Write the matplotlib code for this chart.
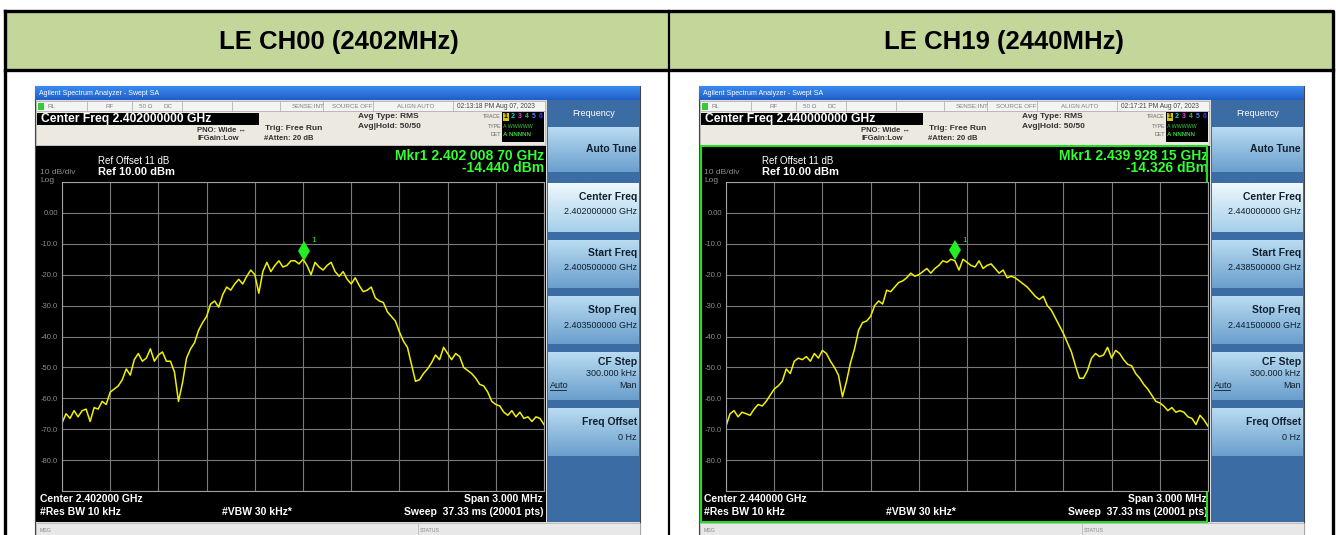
import numpy as np
import matplotlib.pyplot as plt
from matplotlib.patches import Rectangle
import matplotlib.transforms as mtransforms

plt.rcParams['font.family'] = ['Liberation Sans', 'DejaVu Sans']

W, H = 1336, 535

# table header / screen texts
titles = ["LE CH00 (2402MHz)", "LE CH19 (2440MHz)"]
center_ghz = ["2.402000000", "2.440000000"]
center_short = ["2.402000", "2.440000"]
start_ghz = ["2.400500000", "2.438500000"]
stop_ghz = ["2.403500000", "2.441500000"]
clock = ["02:13:18 PM Aug 07, 2023", "02:17:21 PM Aug 07, 2023"]
mkr_freq = ["2.402 008 70", "2.439 928 15"]
mkr_level = [-14.440, -14.326]
mkr_offset = [0.0087, -0.0718]  # MHz from center

span_mhz = 3.0
ref_dbm = 10.0
ylabels = ["", "0.00", "-10.0", "-20.0", "-30.0", "-40.0", "-50.0", "-60.0", "-70.0", "-80.0", ""]

# trace values (dBm), 121 pts over the span
ch00_dbm = [-68, -65, -66.5, -64, -66, -64, -63.5, -67.5, -63, -63.5,
            -61, -62, -58, -57, -56, -54, -50.5, -52.5, -47.5, -45.5,
            -48, -47, -44, -48, -46, -45, -48, -48, -51.5, -61,
            -55, -47, -44, -42, -38, -35.5, -33.5, -29.5, -28.5, -30.5,
            -26.5, -24, -25, -23, -21.5, -23, -20.5, -18.5, -20, -26,
            -19, -16, -19, -17, -15.5, -17.5, -17, -15.5, -15.5, -16.5,
            -15, -17, -20, -16, -17.5, -18.5, -17, -16, -19, -20.5,
            -19, -21.5, -23, -21, -23.5, -25.5, -25, -24, -27.5, -28.5,
            -29, -32, -33.5, -35, -38.5, -41.5, -43.5, -49, -54.5, -54,
            -52, -50.5, -48.5, -46, -47.5, -43.5, -45.5, -47.5, -45.5, -46.5,
            -50, -51, -52, -53.5, -55.5, -56, -58, -61, -62, -62.5,
            -64.5, -65.5, -64, -66, -64.5, -66.5, -66, -67.5, -66, -66.5,
            -68.5]
ch19_dbm = [-69, -65, -64, -66, -64.5, -65, -65.5, -63.5, -62, -62.5,
            -61, -59, -57, -56, -54.5, -50.5, -52, -48, -47, -47.5,
            -46.5, -48, -45.5, -47, -44.5, -45.5, -48, -50, -52.5, -59.5,
            -54.5, -48.5, -44, -38, -35.5, -35, -33.5, -30, -28.5, -29.5,
            -25, -25.5, -24, -22.5, -22, -21, -19.5, -20.5, -20, -19,
            -18, -19.5, -18, -17, -15.5, -16, -15, -15.5, -18.5, -15,
            -16, -17, -17.5, -15.5, -18, -17, -16.5, -18, -19.5, -18.5,
            -21, -20.5, -21, -22, -23, -24, -25.5, -27, -28, -27,
            -30, -31.5, -34, -36.5, -39, -42, -45, -49.5, -53.5, -53.5,
            -51, -47, -45.5, -46.5, -46, -43.5, -47, -44.5, -45.5, -47.5,
            -49, -49.5, -52, -53.5, -55.5, -57, -59, -61, -61.5, -62.5,
            -64, -63, -64.5, -64, -64.5, -66, -66.5, -68.5, -65.5, -67,
            -69]
traces = [ch00_dbm, ch19_dbm]

fig = plt.figure(figsize=(W / 100, H / 100), dpi=100)
bg = fig.add_axes([0, 0, 1, 1])
bg.set_axis_off()

# table
bg.add_patch(Rectangle((5, 11), 1328, 59, fc='#c4d79b', ec='none'))
bg.plot([5, 1333, 1333, 5, 5], [11, 11, 540, 540, 11], color='black', lw=2.4)
bg.plot([5, 1333], [70, 70], color='black', lw=2.4)
bg.plot([669, 669], [11, 540], color='black', lw=1.6)
for i, t in enumerate(titles):
    bg.text(339 + 665 * i, 42, t, ha='center', va='center', fontsize=18.5, fontweight='bold')


def small(x, y, s, **kw):
    kw.setdefault('fontsize', 5)
    kw.setdefault('color', '#333333')
    bg.text(x, y, s, va='center', **kw)


def grad(x0, x1, y0, y1, c_top, c_bot):
    a = np.array(plt.matplotlib.colors.to_rgb(c_top))
    b = np.array(plt.matplotlib.colors.to_rgb(c_bot))
    t = np.linspace(0, 1, 32)[:, None]
    img = (a * (1 - t) + b * t)[:, None, :]
    bg.imshow(img, extent=(x0, x1, y1, y0), origin='upper', aspect='auto', zorder=2)


for i in range(2):
    dx = 664 * i
    x0 = 35 + dx
    # frame + title bar
    bg.add_patch(Rectangle((x0, 86), 605, 455, fc='#dcdcdc', ec='#444444', lw=0.8, zorder=1))
    grad(x0, x0 + 605, 86, 100, '#3c8cf0', '#1f5fc8')
    small(x0 + 4, 93.5, "Agilent Spectrum Analyzer - Swept SA", color='white', fontsize=5, zorder=3)

    # status row
    bg.add_patch(Rectangle((36 + dx, 101), 509, 10, fc='#f4f4f4', ec='#a8a8a8', lw=0.5, zorder=2))
    for sx in [87, 132, 182, 232, 280, 323, 373, 453]:
        bg.plot([sx + dx, sx + dx], [101, 111], color='#a8a8a8', lw=0.5, zorder=3)
    bg.add_patch(Rectangle((38 + dx, 102.5), 6, 7, fc='#33cc33', ec='none', zorder=3))
    for s, sx in [("RL", 47), ("RF", 106), ("50 Ω", 139), ("DC", 163), ("SENSE:INT", 292),
                  ("SOURCE OFF", 332), ("ALIGN AUTO", 397)]:
        small(sx + dx, 106, s, color='#808080', fontsize=4.5, zorder=3)
    small(457 + dx, 106, clock[i], color='#444444', fontsize=4.8, zorder=3)

    # settings row
    bg.add_patch(Rectangle((36 + dx, 111), 509, 34, fc='#ece9e1', ec='#b0b0b0', lw=0.5, zorder=2))
    bg.add_patch(Rectangle((37 + dx, 113), 222, 12, fc='black', ec='none', zorder=3))
    small(41 + dx, 119, "Center Freq " + center_ghz[i] + " GHz", color='white', fontsize=8.7,
          fontweight='bold', zorder=4)
    small(197 + dx, 130, "PNO: Wide ↔", fontsize=5.5, fontweight='bold', zorder=3)
    small(197 + dx, 139, "IFGain:Low", fontsize=5.5, fontweight='bold', zorder=3)
    small(265 + dx, 128, "Trig: Free Run", fontsize=6, fontweight='bold', zorder=3)
    small(264 + dx, 138, "#Atten: 20 dB", fontsize=5.5, fontweight='bold', zorder=3)
    small(358 + dx, 117, "Avg Type: RMS", fontsize=6, fontweight='bold', zorder=3)
    small(358 + dx, 126, "Avg|Hold: 50/50", fontsize=6, fontweight='bold', zorder=3)
    bg.add_patch(Rectangle((502 + dx, 112), 42, 30, fc='black', ec='none', zorder=3))
    for s, sy in [("TRACE", 117), ("TYPE", 126), ("DET", 135)]:
        small(501 + dx, sy, s, color='#666666', fontsize=3.8, ha='right', zorder=3)
    bg.add_patch(Rectangle((503 + dx, 113), 6, 8, fc='#d8c800', ec='none', zorder=4))
    for k, c in enumerate(['black', '#00e0e0', '#e040e0', '#40c040', '#5080ff', '#4040ff']):
        small(504 + 7 * k + dx, 117, str(k + 1), color=c, fontsize=5, fontweight='bold', zorder=5)
    small(503 + dx, 126, "A WWWWW", color='#40d040', fontsize=3.8, zorder=4)
    small(503 + dx, 135, "A NNNNN", color='#40d040', fontsize=4.5, fontweight='bold', zorder=4)

    # display area
    bg.add_patch(Rectangle((36 + dx, 146), 510, 376, fc='black', ec='none', zorder=2))
    if i == 1:
        bg.add_patch(Rectangle((701, 146), 506, 376, fill=False, ec='#22dd22', lw=1.5, zorder=6))
    small(40 + dx, 172, "10 dB/div", color='#8c8c8c', fontsize=6, zorder=3)
    small(40 + dx, 180, "Log", color='#8c8c8c', fontsize=6, zorder=3)
    small(98 + dx, 161, "Ref Offset 11 dB", color='white', fontsize=7, zorder=3)
    small(98 + dx, 172, "Ref 10.00 dBm", color='white', fontsize=8, fontweight='bold', zorder=3)
    small(544 + dx, 156, "Mkr1 " + mkr_freq[i] + " GHz", color='#33ff33', fontsize=10,
          fontweight='bold', ha='right', zorder=3)
    small(544 + dx, 168, "%.3f dBm" % mkr_level[i], color='#33ff33', fontsize=10,
          fontweight='bold', ha='right', zorder=3)
    small(40 + dx, 499, "Center " + center_short[i] + " GHz", color='white', fontsize=7.5,
          fontweight='bold', zorder=3)
    small(40 + dx, 512, "#Res BW 10 kHz", color='white', fontsize=7.5, fontweight='bold', zorder=3)
    small(222 + dx, 512, "#VBW 30 kHz*", color='white', fontsize=7.5, fontweight='bold', zorder=3)
    small(543 + dx, 499, "Span 3.000 MHz", color='white', fontsize=7.5, fontweight='bold',
          ha='right', zorder=3)
    small(543 + dx, 512, "Sweep  37.33 ms (20001 pts)", color='white', fontsize=7.5,
          fontweight='bold', ha='right', zorder=3)

    # message bar
    bg.add_patch(Rectangle((36 + dx, 523), 604, 14, fc='#e8e8e8', ec='#b0b0b0', lw=0.5, zorder=2))
    small(40 + dx, 530, "MSG", color='#888888', fontsize=3.8, zorder=3)
    bg.plot([418 + dx, 418 + dx], [523, 537], color='#b0b0b0', lw=0.5, zorder=3)
    small(420 + dx, 530, "STATUS", color='#888888', fontsize=3.8, zorder=3)

    # softkey panel
    bg.add_patch(Rectangle((547 + dx, 100), 93, 422, fc='#3b6ca3', ec='none', zorder=2))
    small(594 + dx, 113, "Frequency", color='white', fontsize=6.5, ha='center', zorder=3)
    keys = [(127, 172, "Auto Tune", [], False, 149),
            (183, 232, "Center Freq", [center_ghz[i] + " GHz"], True, 197),
            (240, 288, "Start Freq", [start_ghz[i] + " GHz"], False, 253),
            (296, 344, "Stop Freq", [stop_ghz[i] + " GHz"], False, 310),
            (352, 400, "CF Step", ["300.000 kHz"], False, 362),
            (408, 456, "Freq Offset", ["0 Hz"], False, 422)]
    for y0, y1, name, vals, sel, ty in keys:
        if sel:
            grad(548 + dx, 639 + dx, y0, y1, '#eef8fd', '#a6cfea')
        else:
            grad(548 + dx, 639 + dx, y0, y1, '#b9dbf1', '#6a9fcd')
        small(637 + dx, ty, name, color='#10202e', fontsize=7.5, fontweight='bold',
              ha='right', zorder=3)
        for j, v in enumerate(vals):
            small(637 + dx, ty + 15 - 4 * (name == "CF Step"), v, color='#10202e',
                  fontsize=6.5, ha='right', zorder=3)
        if name == "CF Step":
            small(550 + dx, 385, "Auto", color='#10202e', fontsize=6.5, zorder=3)
            small(637 + dx, 385, "Man", color='#10202e', fontsize=6.5, ha='right', zorder=3)
            bg.plot([550 + dx, 566 + dx], [389.5, 389.5], color='#10202e', lw=0.6, zorder=3)

bg.set_xlim(0, W)
bg.set_ylim(H, 0)

# graticules with traces
for i in range(2):
    dx = 664 * i
    ax = fig.add_axes([(62 + dx) / W, 1 - 491 / H, 482 / W, 309 / H])
    ax.set_facecolor('black')
    f = np.linspace(-span_mhz / 2, span_mhz / 2, len(traces[i]))
    ax.plot(f, traces[i], color='#f2f200', lw=1.1)
    tr = mtransforms.offset_copy(ax.transData, fig=fig, x=0, y=5, units='points')
    ax.plot(mkr_offset[i], mkr_level[i], marker='d', color='#22ee22', ms=10, mew=0, transform=tr)
    ax.annotate("1", (mkr_offset[i], mkr_level[i]), xytext=(5, 11), textcoords='offset points',
                color='#22ee22', fontsize=6)
    ax.set_xlim(-span_mhz / 2, span_mhz / 2)
    ax.set_ylim(ref_dbm - 100, ref_dbm)
    ax.set_xticks(np.linspace(-span_mhz / 2, span_mhz / 2, 11))
    ax.set_yticks(np.arange(ref_dbm, ref_dbm - 101, -10))
    ax.set_yticklabels(ylabels)
    ax.tick_params(length=0, labelbottom=False, labelsize=5.5, labelcolor='#8c8c8c', pad=3)
    ax.grid(color='#7a7a7a', lw=0.8)
    for s in ax.spines.values():
        s.set_color('#a0a0a0')

plt.savefig('out.png', dpi=100)
